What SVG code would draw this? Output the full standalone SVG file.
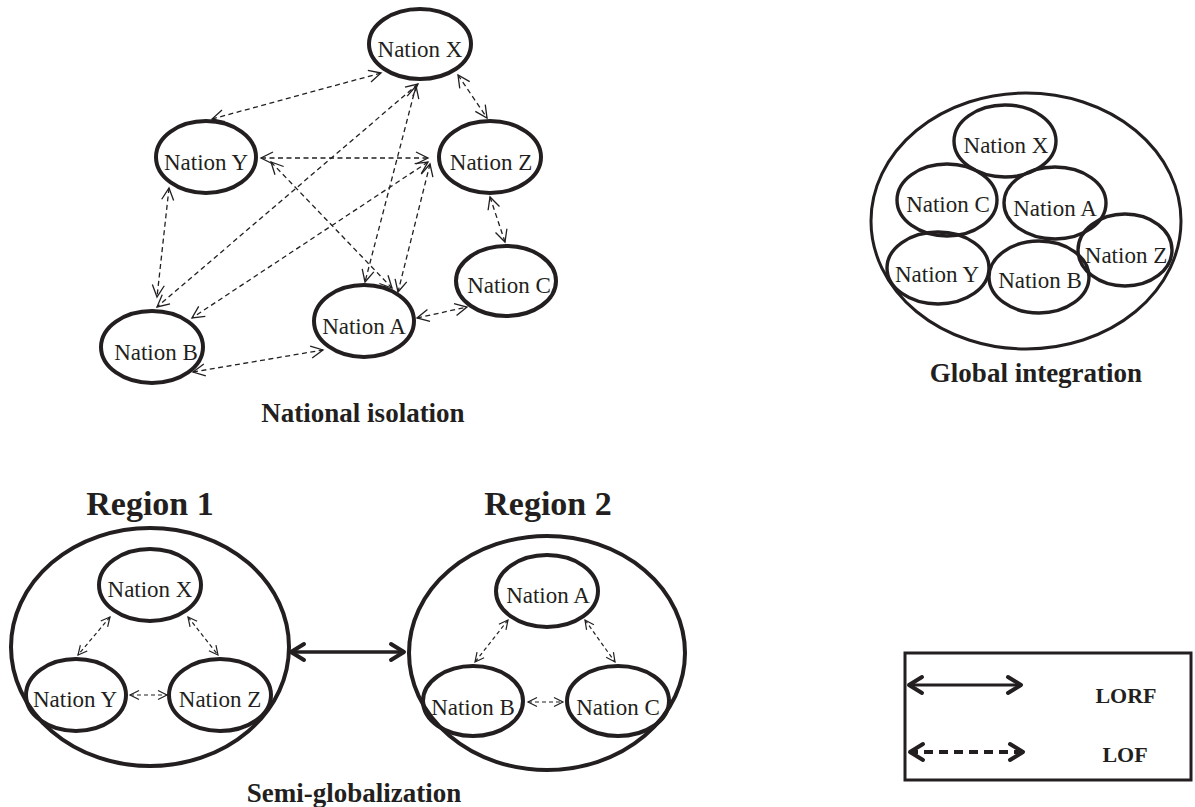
<svg xmlns="http://www.w3.org/2000/svg" width="1195" height="807" viewBox="0 0 1195 807">
<style>
.bg{fill:#ffffff}
.n{fill:none;stroke:#231f20;stroke-width:4}
.g{fill:none;stroke:#231f20;stroke-width:3.4}
.big{fill:none;stroke:#231f20;stroke-width:4}
.gbig{fill:none;stroke:#231f20;stroke-width:3}
.t{font-family:"Liberation Serif","Times New Roman",serif;font-size:23px;fill:#231f20;text-anchor:middle}
.b{font-family:"Liberation Serif","Times New Roman",serif;font-weight:bold;font-size:27px;fill:#231f20;text-anchor:middle}
.r{font-family:"Liberation Serif","Times New Roman",serif;font-weight:bold;font-size:34px;fill:#231f20;text-anchor:middle}
.l{font-family:"Liberation Serif","Times New Roman",serif;font-weight:bold;font-size:22px;fill:#231f20;text-anchor:middle}
.d{fill:none;stroke:#231f20;stroke-width:1.3;stroke-dasharray:5 3.5;marker-start:url(#a);marker-end:url(#a)}
.ds{fill:none;stroke:#231f20;stroke-width:1.2;stroke-dasharray:4 3;marker-start:url(#s);marker-end:url(#s)}
.thick{fill:none;stroke:#231f20;stroke-width:3.5;marker-start:url(#k);marker-end:url(#k)}
.thickd{fill:none;stroke:#231f20;stroke-width:3.8;stroke-dasharray:9 6;marker-start:url(#k);marker-end:url(#k)}
.box{fill:none;stroke:#231f20;stroke-width:3}
</style>
<defs>
<marker id="a" markerUnits="userSpaceOnUse" orient="auto-start-reverse" overflow="visible" markerWidth="1" markerHeight="1" refX="0" refY="0">
<path d="M-12,-6 L0,0 L-12,6" fill="none" stroke="#231f20" stroke-width="1.3"/>
</marker>
<marker id="s" markerUnits="userSpaceOnUse" orient="auto-start-reverse" overflow="visible" markerWidth="1" markerHeight="1" refX="0" refY="0">
<path d="M-9,-4.5 L0,0 L-9,4.5" fill="none" stroke="#231f20" stroke-width="1.2"/>
</marker>
<marker id="k" markerUnits="userSpaceOnUse" orient="auto-start-reverse" overflow="visible" markerWidth="1" markerHeight="1" refX="0" refY="0">
<path d="M-14,-8 L-1,0 L-14,8" fill="none" stroke="#231f20" stroke-width="4" stroke-linejoin="round" stroke-linecap="round"/>
</marker>
</defs>
<rect class="bg" x="0" y="0" width="1195" height="807"/>

<!-- National isolation -->
<g id="iso-connectors">
<line class="d" x1="212" y1="119" x2="381" y2="73"/>
<line class="d" x1="458" y1="75" x2="487" y2="118"/>
<line class="d" x1="261" y1="158" x2="428" y2="158"/>
<line class="d" x1="169" y1="188" x2="157" y2="297"/>
<line class="d" x1="418" y1="84" x2="157" y2="307"/>
<line class="d" x1="428" y1="162" x2="192" y2="318"/>
<line class="d" x1="430" y1="164" x2="398" y2="292"/>
<line class="d" x1="416" y1="86" x2="365" y2="282"/>
<line class="d" x1="271" y1="162" x2="392" y2="288"/>
<line class="d" x1="417" y1="318" x2="467" y2="307"/>
<line class="d" x1="490" y1="197" x2="505" y2="242"/>
<line class="d" x1="193" y1="372" x2="323" y2="350"/>
</g>
<g id="iso-x"><ellipse class="n" cx="420" cy="44" rx="51" ry="35"/><text class="t" x="420" y="57">Nation X</text></g>
<g id="iso-y"><ellipse class="n" cx="206" cy="157" rx="50" ry="36"/><text class="t" x="206" y="170">Nation Y</text></g>
<g id="iso-z"><ellipse class="n" cx="490" cy="157" rx="51" ry="36"/><text class="t" x="491" y="170">Nation Z</text></g>
<g id="iso-c"><ellipse class="n" cx="506" cy="281" rx="50" ry="35"/><text class="t" x="509" y="293">Nation C</text></g>
<g id="iso-a"><ellipse class="n" cx="364" cy="321" rx="50" ry="36"/><text class="t" x="364" y="334">Nation A</text></g>
<g id="iso-b"><ellipse class="n" cx="152" cy="347" rx="51" ry="36"/><text class="t" x="156" y="360">Nation B</text></g>
<text class="b" x="363" y="422">National isolation</text>

<!-- Global integration -->
<g id="global">
<ellipse class="gbig" cx="1026" cy="221" rx="155" ry="128"/>
<g id="gl-x"><ellipse class="g" cx="1005" cy="141" rx="51" ry="36"/><text class="t" x="1006" y="153">Nation X</text></g>
<g id="gl-c"><ellipse class="g" cx="947" cy="200" rx="50" ry="36"/><text class="t" x="948" y="212">Nation C</text></g>
<g id="gl-a"><ellipse class="g" cx="1055" cy="203" rx="51" ry="36"/><text class="t" x="1055" y="216">Nation A</text></g>
<g id="gl-z"><ellipse class="g" cx="1125" cy="250" rx="47" ry="36"/><text class="t" x="1126" y="263">Nation Z</text></g>
<g id="gl-y"><ellipse class="g" cx="938" cy="268" rx="51" ry="36"/><text class="t" x="937" y="282">Nation Y</text></g>
<g id="gl-b"><ellipse class="g" cx="1039" cy="277" rx="50" ry="36"/><text class="t" x="1040" y="288">Nation B</text></g>
</g>
<text class="b" x="1036" y="382">Global integration</text>

<!-- Semi-globalization -->
<text class="r" x="150" y="515">Region 1</text>
<text class="r" x="548" y="515">Region 2</text>
<g id="region1">
<ellipse class="big" cx="150" cy="647" rx="139" ry="119"/>
</g>
<g id="region2">
<ellipse class="big" cx="547" cy="653" rx="138" ry="117"/>
</g>
<g id="semi-connectors">
<line class="ds" x1="110" y1="617" x2="78" y2="655"/>
<line class="ds" x1="188" y1="617" x2="218" y2="655"/>
<line class="ds" x1="130" y1="695" x2="167" y2="695"/>
<line class="ds" x1="508" y1="620" x2="475" y2="662"/>
<line class="ds" x1="585" y1="620" x2="615" y2="662"/>
<line class="ds" x1="528" y1="702" x2="563" y2="702"/>
<line class="thick" x1="290" y1="652" x2="405" y2="652"/>
</g>
<g id="r1-x"><ellipse class="n" cx="150" cy="585" rx="51" ry="36"/><text class="t" x="150" y="597">Nation X</text></g>
<g id="r1-y"><ellipse class="n" cx="76" cy="695" rx="50" ry="36"/><text class="t" x="75" y="707">Nation Y</text></g>
<g id="r1-z"><ellipse class="n" cx="220" cy="695" rx="51" ry="36"/><text class="t" x="220" y="707">Nation Z</text></g>
<g id="r2-a"><ellipse class="n" cx="547" cy="591" rx="51" ry="36"/><text class="t" x="548" y="603">Nation A</text></g>
<g id="r2-b"><ellipse class="n" cx="473" cy="701" rx="50" ry="35"/><text class="t" x="473" y="715">Nation B</text></g>
<g id="r2-c"><ellipse class="n" cx="618" cy="701" rx="51" ry="35"/><text class="t" x="618" y="715">Nation C</text></g>
<text class="b" x="354" y="802">Semi-globalization</text>

<!-- Legend -->
<g id="legend">
<rect class="box" x="905" y="653" width="286" height="127"/>
<line class="thick" x1="908" y1="685" x2="1022" y2="685" style="stroke-width:3"/>
<line class="thickd" x1="909" y1="752" x2="1024" y2="752"/>
<text class="l" x="1126" y="703">LORF</text>
<text class="l" x="1125" y="762">LOF</text>
</g>
</svg>
